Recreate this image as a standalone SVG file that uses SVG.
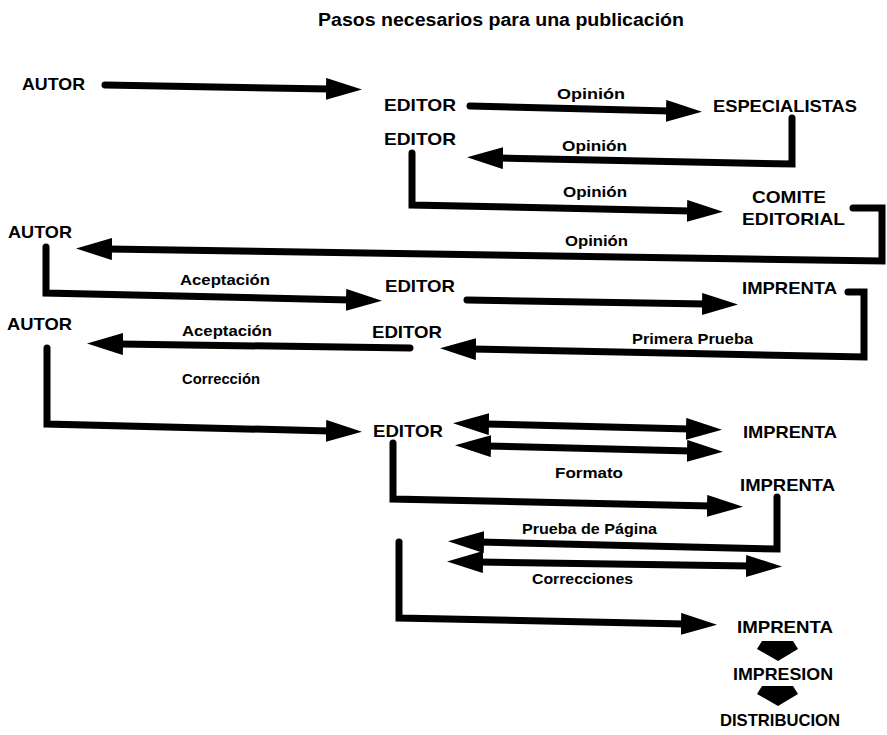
<svg xmlns="http://www.w3.org/2000/svg" width="887" height="735" viewBox="0 0 887 735">
<style>
.n{font-family:"Liberation Sans",Arial,sans-serif;font-weight:bold;font-size:17px;fill:#000}
.l{font-family:"Liberation Sans",Arial,sans-serif;font-weight:bold;font-size:15px;fill:#000}
.t{font-family:"Liberation Sans",Arial,sans-serif;font-weight:bold;font-size:18px;fill:#000}
.c{fill:none;stroke:#000;stroke-width:7;stroke-linejoin:miter;stroke-linecap:round}
.a{marker-end:url(#ah)}
.d{marker-start:url(#ah);marker-end:url(#ah)}
</style>
<defs>
<marker id="ah" viewBox="0 0 36 22" markerWidth="36" markerHeight="22" refX="4" refY="11" orient="auto-start-reverse" markerUnits="userSpaceOnUse">
<path d="M0,0 L36,11 L0,22 Z" fill="#000"/>
</marker>
<path id="chev" d="M5,0 L36,0 L41,8 L21,20 L0,8 Z" fill="#000"/>
</defs>
<rect width="887" height="735" fill="#fff"/>
<text class="t" x="318" y="26" textLength="366" lengthAdjust="spacingAndGlyphs">Pasos necesarios para una publicación</text>

<g id="connectors">
<path class="c a" d="M105,85 L330,89"/>
<path class="c a" d="M470,106 L670,111"/>
<path class="c a" d="M792,118 L792,164 L499,158"/>
<path class="c a" d="M412,153 L412,205 L691,211"/>
<path class="c a" d="M853,208 L882,208 L882,261 L108,249"/>
<path class="c a" d="M46,247 L46,293 L350,300"/>
<path class="c a" d="M467,300 L706,304"/>
<path class="c a" d="M848,292 L864,292 L864,357 L472,349"/>
<path class="c a" d="M410,348 L119,344"/>
<path class="c a" d="M47,348 L47,424 L330,431"/>
<path class="c d" d="M485,424 L690,429"/>
<path class="c d" d="M487,446 L691,451"/>
<path class="c a" d="M393,443 L393,499 L711,506"/>
<path class="c a" d="M777,497 L777,549 L480,542"/>
<path class="c d" d="M479,562 L750,566"/>
<path class="c a" d="M399,542 L399,618 L685,624"/>
<use href="#chev" x="757" y="641"/>
<use href="#chev" x="757" y="686"/>
</g>

<g id="labels">
<text class="l" x="557" y="99" textLength="68" lengthAdjust="spacingAndGlyphs">Opinión</text>
<text class="l" x="562" y="151" textLength="65" lengthAdjust="spacingAndGlyphs">Opinión</text>
<text class="l" x="563" y="197" textLength="64" lengthAdjust="spacingAndGlyphs">Opinión</text>
<text class="l" x="565" y="246" textLength="63" lengthAdjust="spacingAndGlyphs">Opinión</text>
<text class="l" x="180" y="285" textLength="90" lengthAdjust="spacingAndGlyphs">Aceptación</text>
<text class="l" x="182" y="336" textLength="90" lengthAdjust="spacingAndGlyphs">Aceptación</text>
<text class="l" x="632" y="344" textLength="121" lengthAdjust="spacingAndGlyphs">Primera Prueba</text>
<text class="l" x="182" y="384" textLength="78" lengthAdjust="spacingAndGlyphs">Corrección</text>
<text class="l" x="555" y="478" textLength="68" lengthAdjust="spacingAndGlyphs">Formato</text>
<text class="l" x="522" y="534" textLength="135" lengthAdjust="spacingAndGlyphs">Prueba de Página</text>
<text class="l" x="532" y="584" textLength="101" lengthAdjust="spacingAndGlyphs">Correcciones</text>
</g>

<g id="autor1"><text class="n" x="22" y="90" textLength="63" lengthAdjust="spacingAndGlyphs">AUTOR</text></g>
<g id="editor1"><text class="n" x="384" y="111" textLength="72" lengthAdjust="spacingAndGlyphs">EDITOR</text></g>
<g id="especialistas"><text class="n" x="713" y="112" textLength="144" lengthAdjust="spacingAndGlyphs">ESPECIALISTAS</text></g>
<g id="editor2"><text class="n" x="384" y="145" textLength="72" lengthAdjust="spacingAndGlyphs">EDITOR</text></g>
<g id="comite"><text class="n" x="752" y="203" textLength="74" lengthAdjust="spacingAndGlyphs">COMITE</text><text class="n" x="742" y="225" textLength="103" lengthAdjust="spacingAndGlyphs">EDITORIAL</text></g>
<g id="autor2"><text class="n" x="8" y="238" textLength="64" lengthAdjust="spacingAndGlyphs">AUTOR</text></g>
<g id="editor3"><text class="n" x="385" y="292" textLength="70" lengthAdjust="spacingAndGlyphs">EDITOR</text></g>
<g id="imprenta1"><text class="n" x="742" y="294" textLength="95" lengthAdjust="spacingAndGlyphs">IMPRENTA</text></g>
<g id="autor3"><text class="n" x="7" y="330" textLength="65" lengthAdjust="spacingAndGlyphs">AUTOR</text></g>
<g id="editor4"><text class="n" x="372" y="338" textLength="70" lengthAdjust="spacingAndGlyphs">EDITOR</text></g>
<g id="editor5"><text class="n" x="373" y="437" textLength="70" lengthAdjust="spacingAndGlyphs">EDITOR</text></g>
<g id="imprenta2"><text class="n" x="743" y="438" textLength="94" lengthAdjust="spacingAndGlyphs">IMPRENTA</text></g>
<g id="imprenta3"><text class="n" x="740" y="491" textLength="95" lengthAdjust="spacingAndGlyphs">IMPRENTA</text></g>
<g id="imprenta4"><text class="n" x="737" y="633" textLength="96" lengthAdjust="spacingAndGlyphs">IMPRENTA</text></g>
<g id="impresion"><text class="n" x="733" y="680" textLength="100" lengthAdjust="spacingAndGlyphs">IMPRESION</text></g>
<g id="distribucion"><text class="n" x="720" y="726" textLength="120" lengthAdjust="spacingAndGlyphs">DISTRIBUCION</text></g>
</svg>
